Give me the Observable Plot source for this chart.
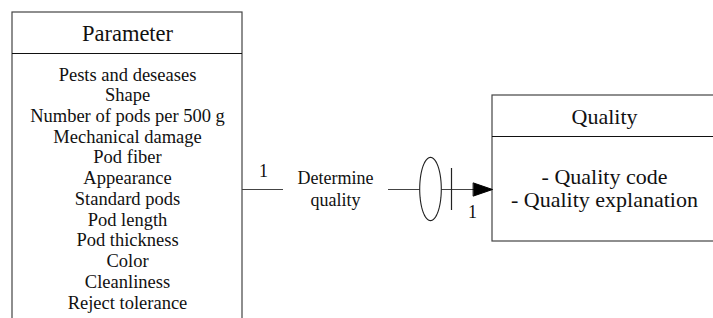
<!DOCTYPE html>
<html>
<head>
<meta charset="utf-8">
<script src="https://cdn.jsdelivr.net/npm/d3@7"></script>
<script src="https://cdn.jsdelivr.net/npm/@observablehq/plot@0.6"></script>
<style>
  html, body { margin: 0; padding: 0; background: #fff; }
  #chart { width: 713px; height: 318px; overflow: hidden; }
  #chart svg, #chart svg text { font-family: "Liberation Serif", "Times New Roman", serif !important; }
</style>
</head>
<body>
<div id="chart"></div>
<script>
// ---- content ----
const entityTitles = ["Parameter", "Quality"];
const parameterItems = [
  "Pests and deseases", "Shape", "Number of pods per 500 g", "Mechanical damage",
  "Pod fiber", "Appearance", "Standard pods", "Pod length", "Pod thickness",
  "Color", "Cleanliness", "Reject tolerance"
];
const qualityItems = ["- Quality code", "- Quality explanation"];
const relationLabel = ["Determine", "quality"];
const cardinalities = ["1", "1"];

// ---- layout ----
const W = 713, H = 318;
const font = "Liberation Serif";
const border = "#444";

const P = {x1: 12, x2: 242, y1: 12, yHead: 53, y2: 340};
const Q = {x1: 492, x2: 716, y1: 95, yHead: 136, y2: 241};
const lineY = 189;

const paramRows = parameterItems.map((t, i) => ({t, x: (P.x1 + P.x2) / 2, y: 80 + i * 20.73}));
const qualRows = qualityItems.map((t, i) => ({t, x: 604, y: 183.5 + i * 23}));
const relRows = relationLabel.map((t, i) => ({t, x: 335, y: 183.5 + i * 22}));
const cardRows = [
  {t: cardinalities[0], x: 263, y: 176},
  {t: cardinalities[1], x: 472, y: 217}
];

const ell = {cx: 430, cy: 188.5, rx: 10.8, ry: 31.6};
const ellipsePts = d3.range(73).map(k => {
  const a = (k / 72) * 2 * Math.PI;
  return {x: ell.cx + ell.rx * Math.cos(a), y: ell.cy + ell.ry * Math.sin(a)};
});
const arrowPts = [{x: 473, y: 182.5}, {x: 492, y: 189}, {x: 473, y: 195.5}];

const txt = (data, size) => Plot.text(data, {x: "x", y: "y", text: "t", lineAnchor: "bottom", fontSize: size, fontFamily: font, fill: "#111"});

const chart = Plot.plot({
  width: W, height: H, margin: 0,
  x: {domain: [0, W], range: [0, W], axis: null},
  y: {domain: [0, H], range: [0, H], axis: null},
  style: {fontFamily: font, background: "#fff", overflow: "hidden"},
  marks: [
    // entity boxes
    Plot.rect([P, Q], {x1: "x1", x2: "x2", y1: "y1", y2: "y2", fill: "none", stroke: border, strokeWidth: 1.2}),
    Plot.ruleY([P, Q], {x1: "x1", x2: "x2", y: "yHead", stroke: "#111", strokeWidth: 1.2}),
    // entity titles
    txt([{t: entityTitles[0], x: (P.x1 + P.x2) / 2, y: 40}], 22.5),
    txt([{t: entityTitles[1], x: 604, y: 123}], 22),
    // attributes
    txt(paramRows, 18.5),
    txt(qualRows, 22),
    // relationship line
    Plot.ruleY([lineY], {x1: P.x2, x2: 283, stroke: border, strokeWidth: 1.2}),
    Plot.ruleY([lineY], {x1: 388, x2: 476, stroke: border, strokeWidth: 1.2}),
    Plot.line(ellipsePts, {x: "x", y: "y", fill: "#fff", stroke: "#222", strokeWidth: 1.1, curve: "linear-closed"}),
    Plot.ruleX([451], {y1: 168, y2: 210, stroke: "#222", strokeWidth: 1.2}),
    Plot.line(arrowPts, {x: "x", y: "y", fill: "#000", stroke: "#000", strokeWidth: 1, curve: "linear-closed"}),
    txt(relRows, 18),
    txt(cardRows, 18)
  ]
});
document.getElementById("chart").appendChild(chart);
</script>
</body>
</html>
